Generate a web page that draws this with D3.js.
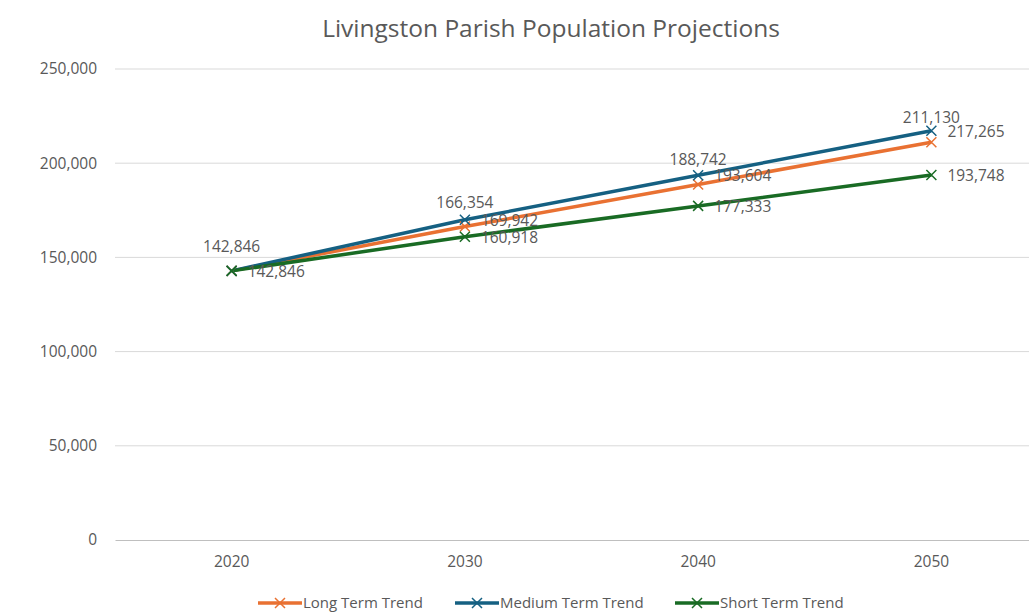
<!DOCTYPE html>
<html>
<head>
<meta charset="utf-8">
<script src="https://cdn.jsdelivr.net/npm/d3@7"></script>
<style>
  html, body { margin: 0; padding: 0; background: #fff; }
  svg { display: block; font-family: "Open Sans", "Noto Sans", sans-serif; }
</style>
</head>
<body>
<svg id="chart" width="1029" height="614"></svg>
<script>
// Population projections for Livingston Parish, by decade
const years = ["2020", "2030", "2040", "2050"];
const longTerm = [142846, 166354, 188742, 211130];
const mediumTerm = [142846, 169942, 193604, 217265];
const shortTerm = [142846, 160918, 177333, 193748];
const yTicks = [0, 50000, 100000, 150000, 200000, 250000];

const series = [
  { name: "Long Term Trend", values: longTerm, color: "#E97132", labelPos: "above" },
  { name: "Medium Term Trend", values: mediumTerm, color: "#156082", labelPos: "right" },
  { name: "Short Term Trend", values: shortTerm, color: "#196B24", labelPos: "right" }
];

const svg = d3.select("#chart");
const margin = { left: 115, right: -19, top: 69, bottom: 74 };
const W = 1029, H = 614;
const plotW = W - margin.left - margin.right;
const plotBottom = H - margin.bottom;

const x = d3.scaleBand().domain(years).range([margin.left, margin.left + plotW]);
const y = d3.scaleLinear().domain([0, 250000]).range([plotBottom, margin.top]);
const fmt = d3.format(",");
const textColor = "#595959";
const labelSize = 15.5;

// Title
svg.append("text")
  .attr("x", 551).attr("y", 37)
  .attr("text-anchor", "middle")
  .attr("font-size", 24.5)
  .attr("fill", textColor)
  .text("Livingston Parish Population Projections");

// Horizontal gridlines
svg.append("g")
  .selectAll("line")
  .data(yTicks.filter(d => d > 0))
  .join("line")
  .attr("x1", margin.left).attr("x2", margin.left + plotW)
  .attr("y1", d => y(d)).attr("y2", d => y(d))
  .attr("stroke", "#d9d9d9").attr("stroke-width", 1);

// Y axis labels
const yAxis = d3.axisLeft(y).tickValues(yTicks).tickFormat(fmt).tickSize(0).tickPadding(18);
const yG = svg.append("g").attr("transform", `translate(${margin.left},0)`).call(yAxis);
yG.select(".domain").remove();
yG.selectAll("text").attr("font-size", labelSize).attr("fill", textColor).attr("font-family", "'Open Sans', sans-serif");

// X axis with baseline
const xAxis = d3.axisBottom(x).tickSize(0).tickPadding(16);
const xG = svg.append("g").attr("transform", `translate(0,${plotBottom})`).call(xAxis);
xG.select(".domain").attr("stroke", "#bfbfbf").attr("stroke-width", 1);
xG.selectAll("text").attr("font-size", labelSize).attr("fill", textColor).attr("font-family", "'Open Sans', sans-serif");

const cx = d => x(d) + x.bandwidth() / 2;
const line = d3.line().x((d, i) => cx(years[i])).y(d => y(d));

function cross(g, px, py, color, s) {
  g.append("path")
    .attr("d", `M${px - s},${py - s}L${px + s},${py + s}M${px - s},${py + s}L${px + s},${py - s}`)
    .attr("stroke", color).attr("stroke-width", 1.5).attr("fill", "none");
}

// Lines
series.forEach(s => {
  svg.append("path")
    .datum(s.values)
    .attr("d", line)
    .attr("fill", "none")
    .attr("stroke", s.color)
    .attr("stroke-width", 3.5)
    .attr("stroke-linejoin", "round");
});
// Markers
series.forEach(s => {
  const g = svg.append("g");
  s.values.forEach((v, i) => cross(g, cx(years[i]), y(v), s.color, 5));
});

// Data labels
series.forEach(s => {
  const g = svg.append("g").attr("font-size", labelSize).attr("fill", textColor);
  s.values.forEach((v, i) => {
    if (s.name === "Short Term Trend" && i === 0) return;
    const px = cx(years[i]), py = y(v);
    if (s.labelPos === "above") {
      g.append("text").attr("x", px).attr("y", py - 19)
        .attr("text-anchor", "middle").text(fmt(v));
    } else {
      g.append("text").attr("x", px + 16).attr("y", py + 6)
        .attr("text-anchor", "start").text(fmt(v));
    }
  });
});

// Legend
const legend = svg.append("g").attr("transform", `translate(0,603)`);
const legendX = [258, 455, 675];
series.forEach((s, i) => {
  const g = legend.append("g").attr("transform", `translate(${legendX[i]},0)`);
  g.append("line").attr("x1", 0).attr("x2", 44).attr("y1", 0).attr("y2", 0)
    .attr("stroke", s.color).attr("stroke-width", 3.5);
  cross(g, 22, 0, s.color, 5);
  g.append("text").attr("x", 45).attr("y", 5)
    .attr("font-size", 15).attr("fill", textColor).text(s.name);
});
</script>
</body>
</html>
